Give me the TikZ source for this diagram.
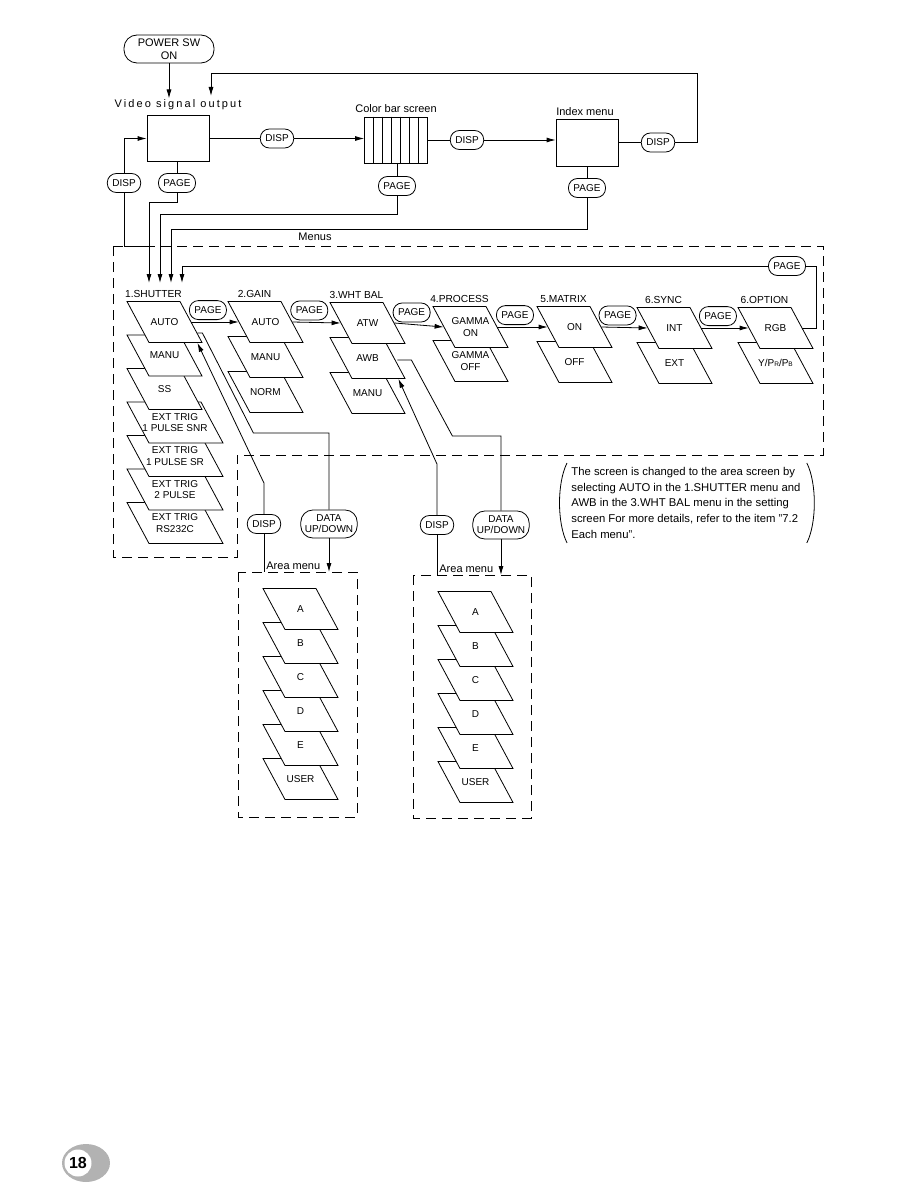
\documentclass[tikz,border=0pt]{standalone}
\usepackage{fontspec}
\setmainfont{Liberation Sans}
\usetikzlibrary{arrows.meta,calc,positioning}

% slanted menu card: [total width]{name}{centre}{text}
\newcommand{\menucard}[4][75]{%
  \draw[cardline] ($(#3)+(-#1/2,-20.5)$) -- ++(#1-22,0) -- ++(22,41) -- ++(22-#1,0) -- cycle;
  \node[cardtxt,minimum width=#1pt-22pt] (#2) at (#3) {#4};
}
\newcommand{\ypbpr}{Y/P{\fontsize{6.5}{7}\selectfont R}/P{\fontsize{6.5}{7}\selectfont B}}

\tikzset{
  pill/.style={draw,rounded corners=9pt,fill=white,minimum height=19pt,inner xsep=5pt,inner ysep=1pt,align=center,font=\fontsize{10}{11}\selectfont},
  bigpill/.style={pill,minimum height=28pt,rounded corners=12pt,inner xsep=4pt},
  cardline/.style={draw,fill=white},
  cardtxt/.style={minimum height=41pt,inner sep=0pt,align=center,font=\fontsize{10}{11.5}\selectfont},
  ttl/.style={inner sep=1pt,font=\fontsize{11}{13}\selectfont},
  colttl/.style={inner sep=1pt,anchor=south,font=\fontsize{10.2}{12}\selectfont},
  frame/.style={dash pattern=on 10pt off 6pt},
  screen/.style={draw,minimum width=62pt,minimum height=46pt,inner sep=0pt},
}

\begin{document}
\begin{tikzpicture}[x=1pt,y=-1pt,line width=0.8pt,>={Latex[length=9pt,width=5pt]}]
  \useasboundingbox (0,0) rectangle (918,1188);

  % power on and the three screens
  \node[pill,minimum width=90pt,minimum height=28pt,rounded corners=13pt,font=\fontsize{11}{12.5}\selectfont] (power) at (169,49) {POWER SW\\ON};
  \node[ttl] (vidlbl) at (178,105) {\addfontfeature{LetterSpace=19}Video signal output};
  \node[screen] (video) at (178,138.5) {};
  \node[ttl] (barlbl) at (396,109) {Color bar screen};
  \node[screen,minimum width=63pt] (bars) at (396,140) {};
  \foreach \i in {1,...,6}
    \draw ($(bars.north west)+(\i*9,0)$) -- ($(bars.south west)+(\i*9,0)$);
  \node[ttl] (idxlbl) at (585,112) {Index menu};
  \node[screen,minimum height=47pt] (index) at (587,142.5) {};

  \node[pill] (disp1) at (277,138.5) {DISP};
  \node[pill] (disp2) at (467,140) {DISP};
  \node[pill] (disp3) at (658,142.5) {DISP};
  \node[pill] (disp0) at (124,183) {DISP};
  \node[pill] (page1) at (177,183) {PAGE};
  \node[pill] (page2) at (397,186) {PAGE};
  \node[pill] (page3) at (587,188) {PAGE};

  \coordinate (loop) at (697,73);
  \coordinate (vin2) at (211,96);
  \coordinate (in1) at (149,283);
  \coordinate (in2) at (160,283);
  \coordinate (in3) at (171,283);
  \coordinate (in4) at (182,283);

  \draw[->] (power.south) -- (power.south |- vidlbl.north);
  \draw[->] (disp3.east) -| (loop) -| (vin2);
  \draw (video.east) -- (disp1.west);
  \draw[->] (disp1.east) -- (disp1.east -| bars.west);
  \draw (bars.east) -- (bars.east -| disp2.west);
  \draw[->] (disp2.east) -- (disp2.east -| index.west);
  \draw (index.east) -- (disp3.west);
  \draw[->] (disp0.north) |- (video.west);
  \draw (page1.north |- video.south) -- (page1.north);
  \draw[->] (page1.south) -- ++(0,9) -| (in1);
  \draw (page2.north |- bars.south) -- (page2.north);
  \draw[->] (page2.south) -- ++(0,18) -| (in2);
  \draw (index.south) -- (page3.north);
  \draw[->] (page3.south) -- ++(0,31) -| (in3);

  % menus frame
  \coordinate (mtl) at (113,246);
  \coordinate (mtr) at (823,246);
  \coordinate (mbr) at (823,455);
  \coordinate (mni) at (237,455);
  \coordinate (mbl) at (113,557);
  \draw[frame] (mtl) -- (mtr) -- (mbr) -- (mni) -- (mni |- mbl) -- (mbl) -- cycle;
  \node[ttl] (menulbl) at (315,237) {Menus};
  \draw (disp0.south) -- (disp0.south |- mtl) -- ++(22,0);

  % menu cards, lowest first
  \foreach \n/\y/\w/\t in {sh7/523/96/{EXT TRIG\\RS232C},sh6/489.5/96/{EXT TRIG\\2 PULSE},
      sh5/456/96/{EXT TRIG\\1 PULSE SR},sh4/422.5/96/{EXT TRIG\\1 PULSE SNR},
      sh3/389/75/SS,sh2/355.5/75/MANU,sh1/322/75/AUTO}
    {\menucard[\w]{\n}{127+\w/2,\y}{\t}}
  \foreach \n/\y/\t in {ga3/392/NORM,ga2/357/MANU,ga1/322/AUTO}
    {\menucard{\n}{265.5,\y}{\t}}
  \foreach \n/\y/\t in {wb3/393/MANU,wb2/358/AWB,wb1/323/ATW}
    {\menucard{\n}{367.5,\y}{\t}}
  \foreach \n/\y/\t in {pr2/361/{GAMMA\\OFF},pr1/327/{GAMMA\\ON}}
    {\menucard{\n}{470.5,\y}{\t}}
  \foreach \n/\y/\t in {ma2/362/OFF,ma1/327/ON}
    {\menucard{\n}{574.5,\y}{\t}}
  \foreach \n/\y/\t in {sy2/363/EXT,sy1/328/INT}
    {\menucard{\n}{674.5,\y}{\t}}
  \foreach \n/\y/\t in {op2/363/\ypbpr,op1/328/RGB}
    {\menucard{\n}{775.5,\y}{\t}}

  \foreach \c/\t in {sh1/1.SHUTTER,ga1/2.GAIN,wb1/3.WHT BAL,pr1/4.PROCESS,ma1/5.MATRIX,sy1/6.SYNC,op1/6.OPTION}
    \node[colttl] (lbl\c) at ($(\c.north)+(-11,-2)$) {\t};

  \foreach \a/\b/\p in {sh1/ga1/pg1,ga1/wb1/pg2,wb1/pr1/pg3,pr1/ma1/pg4,ma1/sy1/pg5,sy1/op1/pg6}
    \draw[->] (\a.east) -- (\b.west) node[pill,above=2pt,pos=0.35] (\p) {PAGE};

  \node[pill] (page0) at (787,266) {PAGE};
  \draw (op1.east) -- ++(14,0) |- (page0.east);
  \draw[->] (page0.west) -| (in4);

  % area menus
  \node[pill] (adisp1) at (264,524) {DISP};
  \node[bigpill] (adata1) at (329,524) {DATA\\UP/DOWN};
  \node[pill] (adisp2) at (437,525) {DISP};
  \node[bigpill] (adata2) at (501,525) {DATA\\UP/DOWN};

  \draw ($(sh1.east)+(6,11)$) -- ++(5,0) -- ++(51,100) -| (adata1.north);
  \draw[->] (adisp1.north) -- ++(0,-31) -- ($(sh1.south east)+(6,0)$);
  \draw ($(wb2.east)+(3,2)$) -- ++(14,0) -- ++(41,76) -| (adata2.north);
  \draw[->] (adisp2.north) -- ++(0,-51) -- ($(wb2.south east)+(4,0)$);

  \coordinate (a1nw) at (238,572);
  \coordinate (a1se) at (357,817);
  \coordinate (a2nw) at (413,575);
  \coordinate (a2se) at (531,818);
  \draw[frame] (a1nw) rectangle (a1se);
  \draw[frame] (a2nw) rectangle (a2se);
  \draw (adisp1.south) -- (adisp1.south |- a1nw);
  \draw[->] (adata1.south) -- (adata1.south |- a1nw);
  \draw (adisp2.south) -- (adisp2.south |- a2nw);
  \draw[->] (adata2.south) -- (adata2.south |- a2nw);
  \node[ttl,anchor=south west] (alab1) at ($(adisp1.south |- a1nw)+(1,-1)$) {Area menu};
  \node[ttl,anchor=south west] (alab2) at ($(adisp2.south |- a2nw)+(1,-1)$) {Area menu};

  \foreach \n/\y/\t in {a16/779/USER,a15/745/E,a14/711/D,a13/677/C,a12/643/B,a11/609/A}
    {\menucard{\n}{300.5,\y}{\t}}
  \foreach \n/\y/\t in {a26/782/USER,a25/748/E,a24/714/D,a23/680/C,a22/646/B,a21/612/A}
    {\menucard{\n}{475.5,\y}{\t}}

  % note
  \node[anchor=north west,inner sep=0pt,align=left,font=\fontsize{11.3}{15.7}\selectfont] (note) at (571,467)
    {The screen is changed to the area screen by\\
     selecting AUTO in the 1.SHUTTER menu and\\
     AWB in the 3.WHT BAL menu in the setting\\
     screen For more details, refer to the item "7.2\\
     Each menu".};
  \draw ($(note.north west)+(-4,-4)$) .. controls ($(note.west)+(-14,-20)$) and ($(note.west)+(-14,20)$) .. ($(note.south west)+(-4,4)$);
  \draw ($(note.north east)+(6,-4)$) .. controls ($(note.east)+(16,-20)$) and ($(note.east)+(16,20)$) .. ($(note.south east)+(6,4)$);

  % page number
  \fill[black!30] (86,1163) ellipse (24 and 19);
  \node[circle,fill=white,inner sep=0pt,minimum size=27pt,font=\bfseries\fontsize{16}{16}\selectfont] (pgno) at (78,1163) {18};
\end{tikzpicture}
\end{document}
